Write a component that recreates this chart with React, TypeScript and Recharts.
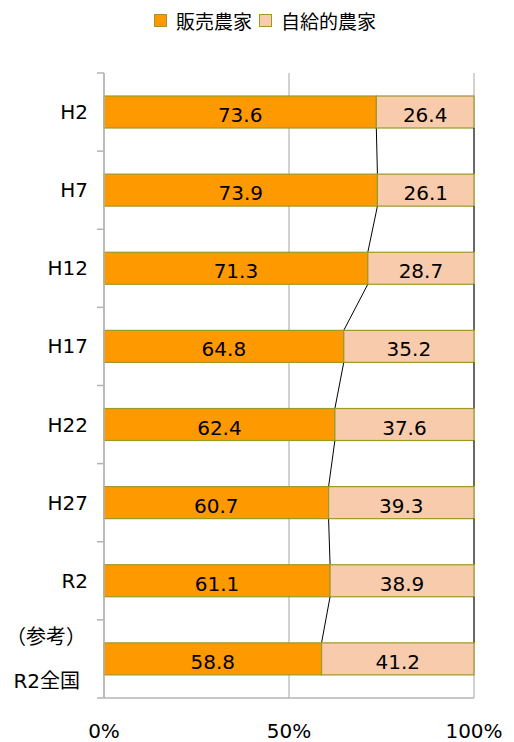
import React from "react";
import {
  BarChart,
  Bar,
  XAxis,
  YAxis,
  CartesianGrid,
  Legend,
  LabelList,
} from "recharts";

const categories = ["H2", "H7", "H12", "H17", "H22", "H27", "R2", "（参考）\nR2全国"];
const hanbai = [73.6, 73.9, 71.3, 64.8, 62.4, 60.7, 61.1, 58.8];
const jikyu = [26.4, 26.1, 28.7, 35.2, 37.6, 39.3, 38.9, 41.2];
const xTicks = [0, 50, 100];

const SERIES = [
  { key: "hanbai", name: "販売農家", fill: "#FF9900" },
  { key: "jikyu", name: "自給的農家", fill: "#F8CBAD" },
];

const W = 514;
const H = 742;
const MARGIN = { top: 73, right: 40, bottom: 14, left: 0 };
const X_AXIS_H = 30;
const Y_AXIS_W = 104;
const STEP = (H - MARGIN.top - MARGIN.bottom - X_AXIS_H) / categories.length;

const FONT = "'DejaVu Sans', 'Noto Sans CJK JP', sans-serif";
const CJK = "'Noto Sans CJK JP', 'DejaVu Sans', sans-serif";
const GRID = "#b4b4b4";
const BORDER = "#9a9a26";

const rows = categories.map((c, i) => ({
  name: c,
  hanbai: hanbai[i],
  jikyu: jikyu[i],
}));

// bar + excel style series line to the next bar
function SeriesBar(props: any) {
  const { x, y, width, height, fill, index, seriesKey } = props;
  const row = rows[index];
  const next = rows[index + 1];
  const value = row[seriesKey as "hanbai" | "jikyu"];
  const before = seriesKey === "jikyu" ? row.hanbai : 0;
  const ppu = width / value;
  const zeroX = x - before * ppu;
  let line = null;
  if (next) {
    const nextEnd = seriesKey === "jikyu" ? next.hanbai + next.jikyu : next.hanbai;
    line = (
      <line
        x1={x + width}
        y1={y + height}
        x2={zeroX + nextEnd * ppu}
        y2={y + STEP}
        stroke="#000"
        strokeWidth={1}
      />
    );
  }
  return (
    <g>
      <rect x={x} y={y} width={width} height={height} fill={fill} stroke={BORDER} strokeWidth={1.2} />
      {line}
    </g>
  );
}

function CategoryTick(props: any) {
  const { x, y, payload, index } = props;
  const lines = String(payload.value).split("\n");
  const axisX = x + 16;
  const half = STEP / 2;
  return (
    <g>
      <line x1={axisX - 7} x2={axisX} y1={y - half} y2={y - half} stroke={GRID} strokeWidth={1.5} />
      {index === categories.length - 1 && (
        <line x1={axisX - 7} x2={axisX} y1={y + half} y2={y + half} stroke={GRID} strokeWidth={1.5} />
      )}
      {lines.length === 1 ? (
        <text x={x} y={y + 7} textAnchor="end" fontSize={20} fill="#000" fontFamily={FONT}>
          {lines[0]}
        </text>
      ) : (
        lines.map((l, i) => (
          <text
            key={i}
            x={i === 0 ? x - 2 : x - 8}
            y={y + 7 + (i - 0.5) * 44}
            textAnchor="end"
            fontSize={20}
            fill="#000"
            fontFamily={i === 0 ? CJK : FONT}
          >
            {l}
          </text>
        ))
      )}
    </g>
  );
}

function LegendContent() {
  return (
    <div style={{ display: "flex", alignItems: "center", fontFamily: FONT, fontSize: 19, color: "#000" }}>
      {SERIES.map((s, i) => (
        <div key={s.key} style={{ display: "flex", alignItems: "center", marginLeft: i ? 7 : 0 }}>
          <span
            style={{
              display: "inline-block",
              width: 11,
              height: 11,
              background: s.fill,
              border: `1px solid ${BORDER}`,
              marginRight: 9,
            }}
          />
          <span>{s.name}</span>
        </div>
      ))}
    </div>
  );
}

export default function App() {
  return (
    <div style={{ position: "absolute", left: 0, top: 0, width: W, height: H, background: "#fff" }}>
      <BarChart
        width={W}
        height={H}
        data={rows}
        layout="vertical"
        margin={MARGIN}
        barSize={32}
        style={{ fontFamily: FONT }}
      >
        <CartesianGrid horizontal={false} stroke={GRID} strokeWidth={1.2} />
        <XAxis
          type="number"
          domain={[0, 100]}
          ticks={xTicks}
          tickFormatter={(v) => `${v}%`}
          height={X_AXIS_H}
          tickLine={false}
          tickSize={0}
          tickMargin={26}
          axisLine={{ stroke: GRID, strokeWidth: 1.5 }}
          tick={{ fill: "#000", fontSize: 20, fontFamily: FONT }}
          interval={0}
        />
        <YAxis
          type="category"
          dataKey="name"
          width={Y_AXIS_W}
          tickLine={false}
          tickSize={0}
          tickMargin={16}
          axisLine={{ stroke: GRID, strokeWidth: 1.5 }}
          tick={<CategoryTick />}
          interval={0}
        />
        <Legend
          verticalAlign="middle"
          align="center"
          layout="horizontal"
          wrapperStyle={{ top: 7, left: 154, width: "auto" }}
          content={<LegendContent />}
        />
        {SERIES.map((s) => (
          <Bar
            key={s.key}
            dataKey={s.key}
            name={s.name}
            stackId="a"
            fill={s.fill}
            isAnimationActive={false}
            shape={<SeriesBar seriesKey={s.key} />}
          >
            <LabelList
              dataKey={s.key}
              position="center"
              fill="#000"
              fontSize={20}
              fontFamily={FONT}
              dy={3}
              formatter={(v: any) => Number(v).toFixed(1)}
            />
          </Bar>
        ))}
      </BarChart>
    </div>
  );
}
